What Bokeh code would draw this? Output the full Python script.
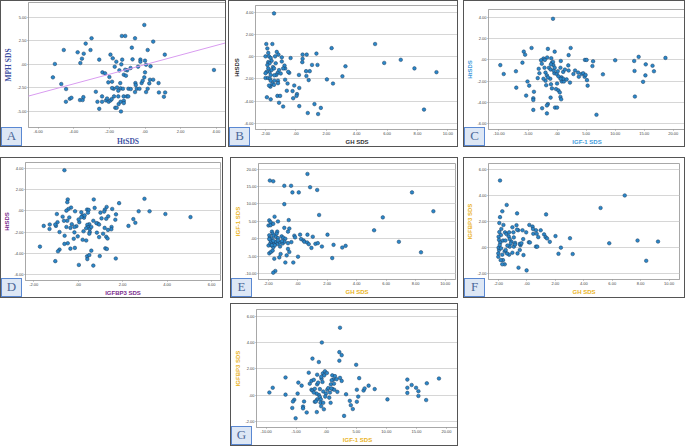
from bokeh.plotting import figure
from bokeh.layouts import column, row
from bokeh.models import FixedTicker, Slope, Range1d, Spacer, Div
from bokeh.embed import file_html
from bokeh.resources import INLINE

# ---------------- data (x, y) per panel ----------------
A_pts = [(-0.04,4.18),(0.46,2.41),(-1.30,3.01),(-1.11,3.01),(-0.56,2.77),(-3.0,2.77),(-3.33,2.20),(-4.56,1.52),(-3.78,1.28),(-3.44,1.13),(-3.06,1.52),(-0.74,1.77),(0.15,1.52),(1.11,1.03),(-1.94,1.03),(-5.06,0.04),(-3.63,0.14),(-3.54,0.60),(-2.57,0.50),(-1.81,0.64),(-1.61,0.28),(-1.28,0.50),(-1.33,0),(-0.70,0.53),(-0.81,-0.39),(-0.26,0.50),(-0.26,0.28),(0,0.39),(0.06,-0.04),(0.31,-0.21),(-0.39,-0.25),(-1.44,-0.64),(-1.70,-0.25),(-1.19,-1.10),(-1.07,-1.21),(-1.0,-0.64),(-1.11,-0.57),(-2.39,-0.85),(-2.24,-0.96),(-2.0,-1.35),(-1.85,-1.84),(-2.06,-1.91),(-1.39,-1.99),(-1.37,-2.55),(-1.24,-2.59),(-0.93,-2.59),(-0.80,-2.62),(-0.54,-1.99),(-0.52,-2.20),(-0.56,-2.94),(-0.46,-2.59),(-0.31,-2.59),(-0.19,-1.99),(-0.13,-1.74),(-0.04,-1.38),(0,-0.85),(0.06,-2.94),(0.15,-2.59),(0.24,-2.02),(0.28,-1.63),(0.46,-1.63),(0.76,-1.99),(0.78,-2.98),(1.13,-2.98),(1.06,-3.44),(3.87,-0.60),(-5.17,-1.38),(-4.70,-2.09),(-4.43,-2.62),(-4.44,-3.97),(-4.22,-3.65),(-4.13,-3.55),(-3.65,-3.79),(-3.5,-3.79),(-3.46,-3.48),(-2.76,-2.91),(-2.67,-3.97),(-2.57,-4.72),(-2.41,-3.40),(-2.41,-3.97),(-2.19,-3.83),(-2.13,-3.62),(-2.04,-3.97),(-1.94,-3.83),(-1.87,-3.69),(-1.74,-3.40),(-1.67,-4.61),(-1.59,-4.61),(-1.5,-3.40),(-1.48,-4.22),(-1.37,-3.97),(-1.35,-5.0),(-1.20,-3.40),(-1.19,-3.87),(-1.19,-4.11),(-1.02,-3.40),(-0.94,-3.40),(-1.5,-2.80),(-1.76,-2.59),(-1.85,-2.52),(-1.57,-2.45)]
A_fit_slope = 0.51
A_fit_intercept = -0.03

B_pts = [(-1.44,3.89),(-1.95,1.14),(-1.55,1.14),(-1.88,0.74),(-1.82,0.34),(-1.26,0.43),(-1.15,0.19),(-1.37,0.03),(-2.0,0.03),(-1.77,0.03),(-1.66,-0.12),(-1.60,-0.37),(-1.82,-0.49),(-1.73,-0.59),(-0.93,-0.06),(-0.93,-0.43),(-0.35,-0.12),(0.44,0.19),(0.71,0.19),(1.35,0.28),(0.44,-0.19),(0.42,-0.49),(1.06,-0.74),(1.42,-0.74),(2.35,0.77),(5.21,1.14),(5.81,-0.56),(6.90,-0.28),(7.80,-1.05),(9.25,-1.39),(8.43,-4.75),(3.26,-0.86),(3.06,-1.76),(2.44,-2.41),(2.04,-2.04),(0.91,-1.30),(0.67,-1.30),(0.69,-1.73),(0.84,-2.10),(0.20,-1.64),(0.22,-2.81),(0.07,-3.36),(0.04,-3.52),(0.22,-4.44),(-0.22,-3.09),(-0.18,-3.73),(-0.11,-2.59),(-0.60,-3.06),(-0.71,-2.07),(-0.55,-2.41),(-0.44,-1.45),(-0.51,-1.36),(-0.71,-1.05),(-0.75,-0.80),(-0.84,-1.05),(-1.11,-1.20),(-1.20,-1.45),(-1.29,-1.64),(-1.18,-2.16),(-1.18,-2.38),(-1.42,-2.16),(-1.42,-1.67),(-1.51,-0.93),(-1.73,-1.36),(-1.82,-1.05),(-1.93,-1.36),(-2.0,-1.48),(-2.0,-1.91),(-1.84,-1.91),(-1.66,-1.64),(-1.71,-1.98),(-1.66,-2.16),(-1.55,-2.44),(-1.68,-2.69),(-1.91,-3.64),(-1.66,-3.83),(-1.22,-3.52),(-1.04,-3.52),(-1.11,-4.14),(-0.84,-4.48),(0.78,-5.06),(1.22,-4.26),(1.46,-5.15),(1.64,-4.60),(-1.44,-2.53),(-1.77,-2.59),(-1.60,-1.20),(-1.88,-0.74),(-1.44,-1.05),(-1.33,-0.59),(-1.0,-1.51)]

C_pts = [(-0.70,3.88),(2.34,1.13),(-4.39,1.13),(-1.58,1.04),(-5.73,0.78),(-5.5,0.49),(-5.96,-0.26),(-0.41,0.78),(1.99,0.45),(-1.70,0.23),(-2.34,0.13),(-2.75,-0.03),(-2.11,0),(-1.0,0.16),(-0.88,-0.26),(-0.70,-0.19),(-2.63,-0.36),(-1.40,-0.74),(-1.11,-0.91),(-0.64,-0.49),(0.64,-0.10),(1.93,-0.52),(4.80,0),(5.09,0),(6.20,-0.13),(6.08,-0.58),(10.0,-0.03),(13.27,-0.10),(14.04,0.29),(15.26,-0.42),(16.43,-0.55),(18.65,0.19),(16.67,-1.07),(15.20,-1.46),(14.8,-2.07),(13.33,-1.04),(13.39,-3.46),(7.89,-1.36),(6.78,-5.18),(-9.77,-0.49),(-9.18,-1.33),(-7.08,-1.07),(-7.02,-2.62),(-5.09,-2.04),(-4.80,-2.43),(-5.32,-3.37),(-4.09,-3.62),(-4.09,-3.79),(-3.98,-3.01),(-4.09,-4.72),(-2.57,-4.56),(-1.75,-5.05),(-1.58,-4.17),(-1.75,-4.30),(-1.11,-3.56),(-1.17,-1.78),(-1.87,-2.39),(-1.99,-1.97),(-2.34,-1.78),(-3.33,-1.72),(-3.04,-1.26),(-3.16,-0.84),(-2.16,-0.74),(-1.99,-1.20),(-1.75,-1.46),(-1.58,-1.65),(-1.05,-2.30),(-0.47,-1.26),(-0.06,-1.33),(-0.18,-2.75),(0.23,-2.88),(0.47,-3.07),(0.58,-3.50),(0.70,-3.72),(-0.35,-4.50),(0,-4.50),(-0.88,-2.69),(0,-2.23),(0.76,-1.65),(0.82,-2.04),(1.17,-2.04),(1.05,-1.78),(0.58,-1.78),(0.23,-1.55),(0.12,-1.07),(0.58,-0.74),(1.05,-1.13),(1.35,-0.91),(1.64,-1.84),(1.99,-1.0),(2.22,-2.14),(2.81,-1.33),(3.10,-1.0),(3.63,-1.20),(3.74,-1.59),(4.21,-1.33),(4.50,-1.26),(4.74,-1.59),(4.91,-1.42),(5.15,-1.91),(5.26,-2.43),(-1.05,-0.42),(-0.58,-1.0),(-0.41,-0.74)]

D_pts = [(-0.62,3.85),(-0.47,1.09),(-0.49,0.83),(0.70,1.09),(2.98,1.15),(1.84,0.74),(0.74,0.29),(1.28,0.38),(1.20,0.13),(1.17,-0.06),(1.53,0.19),(-0.14,-0.03),(-0.32,0.32),(-0.44,0.19),(-0.53,0.03),(0.40,0.13),(0.47,0.10),(0.44,-0.16),(0.14,-0.13),(1.0,-0.16),(2.72,-0.03),(3.21,-0.03),(3.92,-0.29),(5.05,-0.58),(2.48,-0.77),(2.57,-1.12),(2.26,-1.41),(1.70,-0.32),(1.67,-0.83),(1.35,-0.51),(1.26,-0.74),(1.50,-1.51),(1.49,-1.73),(1.34,-1.79),(1.19,-1.60),(1.12,-2.15),(1.26,-2.44),(1.32,-2.60),(1.22,-3.53),(1.29,-3.59),(1.69,-4.49),(0.97,-4.26),(0.94,-2.47),(0.84,-2.05),(0.88,-1.19),(0.82,-1.15),(0.94,-1.28),(0.68,-0.93),(0.50,-1.25),(0.41,-1.31),(0.44,-1.54),(0.36,-1.63),(0.52,-1.70),(0.52,-1.99),(0.50,-2.15),(0.24,-1.92),(0.36,-2.79),(0.20,-2.72),(0.26,-0.64),(0.20,-0.45),(0.29,-0.42),(0.14,-0.58),(0.05,-1.06),(-0.08,-1.44),(-0.17,-2.02),(-0.02,-2.40),(-0.20,-2.63),(-0.29,-1.25),(-0.17,-1.51),(-0.35,-1.60),(-0.53,-1.51),(-0.49,-0.93),(-0.40,-0.61),(-0.64,-0.93),(-0.93,-1.06),(-1.0,-1.41),(-1.28,-1.28),(-1.55,-1.41),(-1.29,-1.70),(-0.84,-1.99),(-0.61,-2.34),(-0.47,-3.05),(-0.62,-3.11),(-0.35,-3.56),(-0.15,-3.49),(-0.84,-3.65),(-0.91,-3.81),(-1.72,-3.37),(-1.03,-4.74),(0.03,-5.10),(0.68,-5.16),(0.40,-4.29),(0.41,-4.55),(0.50,-4.17),(0.59,-3.75),(-0.96,-0.29),(-1.03,-1.28),(-0.70,-0.54),(0.02,-0.80),(1.05,-0.70),(0.59,-1.51)]

E_pts = [(0.66,18.6),(-1.89,16.7),(-1.66,16.5),(-0.91,15.2),(-0.45,15.2),(0.84,14.8),(1.32,14.0),(-0.36,13.3),(0.07,13.3),(7.75,13.3),(-0.91,9.93),(1.45,6.82),(5.77,6.13),(9.20,7.89),(-1.57,6.33),(-1.93,5.26),(-1.84,4.77),(-0.61,5.36),(-1.34,4.97),(-1.98,3.80),(-1.84,3.89),(-1.66,4.28),(-0.91,3.12),(-0.57,2.92),(-0.66,2.04),(-1.39,2.04),(-1.43,1.46),(-1.75,2.04),(-1.70,1.46),(-1.93,0.97),(-1.89,0.29),(-1.77,0),(-1.64,0.88),(-1.48,0.49),(-1.34,0.19),(-1.09,0.68),(-0.98,0.29),(-0.84,0),(-0.23,0.88),(-0.18,0.39),(0.16,1.17),(0.66,1.17),(1.02,0.58),(2.02,1.17),(5.18,2.43),(0.23,-0.10),(0.39,-0.49),(0.45,-0.88),(0.64,-1.07),(0.75,-1.56),(0.93,-2.63),(1.20,-1.46),(1.36,-1.27),(1.64,-2.24),(2.43,-1.75),(3.02,-2.53),(3.25,-2.04),(2.34,-5.55),(6.86,-0.88),(8.36,-3.89),(0.02,-5.16),(-0.30,-6.82),(-0.84,-6.82),(-0.75,-4.77),(-0.57,-3.80),(-0.66,-2.92),(-0.43,-0.97),(-1.25,-5.36),(-1.16,-4.38),(-1.59,-5.74),(-1.93,-4.19),(-1.82,-3.80),(-1.70,-3.41),(-1.66,-2.43),(-1.82,-1.85),(-1.98,-1.95),(-1.86,-1.36),(-1.77,-0.97),(-1.59,-1.27),(-1.48,-0.88),(-1.36,-1.46),(-1.20,-2.24),(-1.20,-1.07),(-1.02,-1.36),(-0.89,-0.88),(-1.07,-0.68),(-0.66,-1.27),(-1.52,-9.25),(-1.66,-9.74),(-1.84,-0.49),(-1.93,-0.10),(-1.75,-1.85),(-1.55,-1.85),(-1.34,-0.49),(-1.66,-0.58)]

F_pts = [(-1.89,5.14),(-1.42,3.26),(-1.73,2.77),(-1.89,2.32),(-0.69,2.61),(1.35,2.53),(5.18,3.03),(6.88,3.99),(-1.94,1.87),(-1.65,1.72),(-1.80,1.41),(-1.94,1.17),(-1.82,0.94),(-1.99,0.81),(-1.96,0.57),(-1.87,0.37),(-1.68,0.52),(-1.51,0.52),(-1.54,1.15),(-1.44,1.02),(-1.25,1.15),(-1.28,0.84),(-1.09,0.44),(-1.13,0.29),(-1.02,1.54),(-0.73,1.70),(-0.61,1.31),(-0.95,1.15),(-0.31,1.31),(-0.05,1.15),(0.17,1.72),(0.40,1.59),(0.43,1.41),(0.45,1.04),(0.64,1.31),(0.69,1.04),(0.97,1.31),(1.21,0.99),(1.32,0.78),(1.42,0.68),(1.61,0.42),(2.01,0.86),(3.03,0.70),(5.79,0.31),(7.78,0.52),(9.22,0.44),(2.39,-0.03),(2.22,-0.50),(3.22,-0.52),(8.39,-1.04),(0.80,0.78),(0.64,0.05),(0.73,0.05),(0.14,0.39),(0.21,0.37),(-0.26,0.63),(-0.45,0.16),(-0.50,-0.21),(-0.66,-0.47),(-0.24,-0.60),(-0.59,-1.57),(-0.02,-1.78),(-0.83,0.34),(-0.92,0.05),(-1.02,-0.42),(-1.25,-0.57),(-1.40,-0.47),(-1.56,-0.31),(-1.56,-1.31),(-1.73,-1.31),(-1.68,-0.99),(-1.84,-0.99),(-2.01,-0.73),(-2.01,-0.47),(-1.96,-0.21),(-1.99,-0.03),(-1.82,-0.08),(-1.73,-0.57),(-1.49,-0.21),(-1.21,0.05),(-0.83,0.21),(-0.50,0.26),(-0.69,1.36),(-0.38,0.31),(-1.37,0.13),(-1.91,0.18),(-0.92,0.76),(-1.21,0.63)]

G_pts = [(2.29,5.12),(-0.73,4.0),(2.18,3.27),(2.57,3.04),(-2.29,2.78),(-1.23,2.52),(2.18,2.62),(4.98,2.31),(-9.46,0.21),(-8.90,0.57),(-6.77,1.35),(-6.77,0.05),(-4.64,0.96),(-4.76,0.13),(-4.09,0.73),(-5.32,-0.34),(-5.54,-0.47),(-5.65,-0.96),(-5.09,-1.74),(-3.86,-0.86),(-3.86,-0.99),(-3.69,-0.47),(-3.25,-1.30),(-2.91,1.71),(-2.74,0.88),(-2.46,1.09),(-2.07,1.17),(-2.46,0.42),(-2.29,0.36),(-1.90,0.49),(-1.51,0.83),(-1.51,1.56),(-1.34,0.96),(-0.78,1.25),(-0.56,1.66),(-0.22,1.82),(-0.34,1.51),(0.11,1.69),(-0.62,1.01),(-0.84,1.40),(-1.06,0.47),(-1.23,0.03),(-0.50,0.29),(-0.06,0.13),(0.17,0.42),(0.34,0.55),(0.78,0.83),(1.01,1.51),(1.18,1.19),(0.90,1.14),(1.29,0.88),(1.45,1.45),(1.73,1.22),(2.29,1.32),(2.57,1.09),(1.06,0.47),(1.34,0.42),(1.85,0.26),(0.62,0.21),(0.84,0.52),(3.30,0.08),(-1.62,0.13),(-1.90,-0.49),(-1.51,-0.31),(-1.06,-0.13),(-0.90,-0.31),(-0.95,-0.57),(-0.50,-0.57),(-0.84,-0.83),(-0.39,-1.06),(-1.57,-1.27),(0.73,-0.57),(0.50,-0.18),(2.97,-1.56),(3.92,-0.42),(4.09,-0.75),(4.42,-1.04),(5.09,-0.49),(5.32,-0.10),(5.09,0.42),(5.48,1.30),(6.21,0.36),(6.38,0.52),(7.05,0.73),(8.06,0.47),(10.18,-0.31),(13.49,1.19),(13.49,0.57),(13.49,0.18),(14.21,0.78),(14.94,0.57),(15.33,0.31),(15.33,-0.05),(16.62,-0.36),(16.73,0.91),(18.75,1.27),(-2.07,0.21),(-1.73,-0.47),(-0.17,-0.10)]

# tick values
ticks_A_x = [-6, -4, -2, 0, 2, 4]
ticks_A_y = [-5, -2.5, 0, 2.5, 5]
ticks_GH = [-2, 0, 2, 4, 6, 8, 10]
ticks_IGF1 = [-10, -5, 0, 5, 10, 15, 20]
ticks_Ht = [-6, -4, -2, 0, 2, 4]
ticks_BP3_x = [-2, 0, 2, 4, 6]
ticks_BP3_y = [-2, 0, 2, 4, 6]
ticks_IGF1_y = [-10, -5, 0, 5, 10, 15, 20]


def spss(v):
    s = "%.2f" % v
    if s.startswith("0"):
        s = s[1:]
    if s == "-.00":
        s = ".00"
    return s


NAVY = "#3d4fa3"
DARK = "#333333"
LBLUE = "#3f9bdb"
PURPLE = "#7b2b8c"
GOLD = "#eab324"


def panel(pts, xr, yr, xt, yt, xlabel, ylabel, letter, color, w, h,
          bl, br, bt, bb, serif=False):
    p = figure(width=w, height=h, x_range=Range1d(*xr), y_range=Range1d(*yr),
               output_backend="svg", toolbar_location=None,
               min_border_left=bl, min_border_right=br,
               min_border_top=bt, min_border_bottom=bb)
    if p.title is not None:
        p.title.visible = False
    p.styles = {"border": "1px solid #555555"}
    p.background_fill_color = "white"
    p.border_fill_color = "white"
    p.outline_line_color = "#a8a8a8"
    p.xgrid.visible = False
    p.ygrid.grid_line_color = "#d6d6d6"
    p.ygrid.grid_line_width = 1
    lab_font = "Liberation Serif" if serif else "Liberation Sans"
    for ax, ticks, lab in ((p.xaxis[0], xt, xlabel), (p.yaxis[0], yt, ylabel)):
        ax.ticker = FixedTicker(ticks=ticks)
        ax.major_label_overrides = {float(t): spss(t) for t in ticks}
        ax.major_label_text_font_size = "4px"
        ax.major_label_text_color = "#444444"
        ax.major_label_text_font = "Liberation Sans"
        ax.major_label_standoff = 1
        ax.major_tick_out = 1
        ax.major_tick_in = 0
        ax.minor_tick_out = 0
        ax.minor_tick_in = 0
        ax.major_tick_line_color = "#999999"
        ax.axis_line_color = "#a8a8a8"
        ax.axis_label = lab
        ax.axis_label_text_font = lab_font
        ax.axis_label_text_font_style = "bold"
        ax.axis_label_text_font_size = ("7.5px" if serif else "6px")
        ax.axis_label_text_color = color
        ax.axis_label_standoff = 1
    xs = [q[0] for q in pts]
    ys = [q[1] for q in pts]
    p.scatter(xs, ys, size=3.6, fill_color="#2a87c9", line_color="#1d3d5e",
              line_width=0.5)
    tag = Div(text=letter, width=21, height=19, margin=(0, 0, 0, 0),
              styles={"margin": "-20px 0px 1px 1px",
                      "position": "relative", "z-index": "5",
                      "box-sizing": "border-box",
                      "background": "#dde7f5", "border": "1.5px solid #5a88d2",
                      "font-family": "Liberation Serif", "font-size": "13px",
                      "color": "#4b6899", "text-align": "center",
                      "line-height": "16px"})
    return column(p, tag, spacing=0)


pA = panel(A_pts, (-6.54, 4.63), (-6.7, 6.56), ticks_A_x, ticks_A_y, "HtSDS",
           "MPH SDS", "A", NAVY, 226, 147, 25, 0, 1, 19, serif=True)
pA.children[0].add_layout(Slope(gradient=A_fit_slope, y_intercept=A_fit_intercept,
                                line_color="#d99cf0", line_width=1))
pB = panel(B_pts, (-2.66, 10.7), (-6.54, 4.6), ticks_GH, ticks_Ht, "GH SDS",
           "HtSDS", "B", DARK, 230, 147, 26, 1, 4, 19)
pC = panel(C_pts, (-11.8, 22.1), (-6.57, 4.76), ticks_IGF1, ticks_Ht, "IGF-1 SDS",
           "HtSDS", "C", LBLUE, 222, 147, 24, 1, 8, 19)
pD = panel(D_pts, (-2.37, 6.4), (-6.57, 4.58), ticks_BP3_x, ticks_Ht, "IGFBP3 SDS",
           "HtSDS", "D", PURPLE, 223, 141, 24, 4, 4, 19)
pE = panel(E_pts, (-2.66, 10.7), (-11.7, 21.6), ticks_GH, ticks_IGF1_y, "GH SDS",
           "IGF-1 SDS", "E", GOLD, 228, 141, 27, 4, 5, 20)
pF = panel(F_pts, (-2.7, 10.73), (-2.48, 6.45), ticks_GH, ticks_BP3_y, "GH SDS",
           "IGFBP3 SDS", "F", GOLD, 222, 141, 23, 7, 5, 20)
pG = panel(G_pts, (-11.6, 22.0), (-2.44, 6.5), ticks_IGF1, ticks_BP3_y, "IGF-1 SDS",
           "IGFBP3 SDS", "G", GOLD, 228, 143, 25, 1, 5, 20)

layout = column(
    row(pA, Spacer(width=2), pB, Spacer(width=5), pC),
    Spacer(height=10),
    row(pD, Spacer(width=7), pE, Spacer(width=5), pF),
    Spacer(height=5),
    row(Spacer(width=230), pG),
)

open("out.html", "w").write(file_html(layout, INLINE))
